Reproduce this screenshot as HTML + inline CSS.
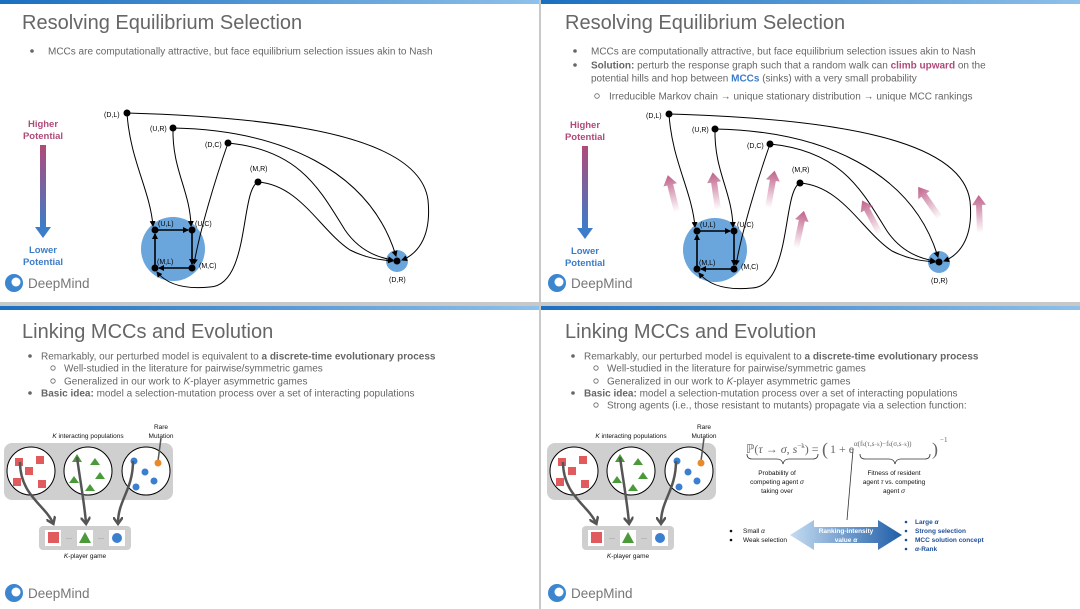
<!DOCTYPE html>
<html><head><meta charset="utf-8"><style>
html,body{margin:0;padding:0;background:#fff;}
svg{display:block;font-family:"Liberation Sans",sans-serif;}
</style></head><body>
<svg width="1080" height="609" viewBox="0 0 1080 609" xmlns="http://www.w3.org/2000/svg">
<defs>
<linearGradient id="bar" x1="0" x2="1"><stop offset="0" stop-color="#1a6fc0"/><stop offset="1" stop-color="#8ec0ea"/></linearGradient>
<linearGradient id="pot" x1="0" y1="0" x2="0" y2="1"><stop offset="0" stop-color="#b04a7a"/><stop offset="1" stop-color="#3d7cc8"/></linearGradient>
<linearGradient id="pk" x1="0" y1="1" x2="0" y2="0"><stop offset="0" stop-color="#b8507e" stop-opacity="0"/><stop offset="1" stop-color="#b8507e" stop-opacity="0.9"/></linearGradient>
<linearGradient id="big" x1="0" x2="1"><stop offset="0" stop-color="#c5dcf2"/><stop offset="1" stop-color="#1f5ea8"/></linearGradient>
<marker id="ah" markerWidth="6" markerHeight="6" refX="5" refY="3" orient="auto" markerUnits="userSpaceOnUse"><path d="M0,0 L6,3 L0,6 z" fill="#000"/></marker>
<marker id="gh" markerWidth="10" markerHeight="10" refX="6" refY="5" orient="auto" markerUnits="userSpaceOnUse"><path d="M0,0 L7,5 L0,10" fill="none" stroke="#555" stroke-width="2.5"/></marker>
</defs>

<rect x="0" y="302" width="1080" height="4" fill="#c8c8c8"/>
<rect x="539" y="0" width="2" height="609" fill="#c8c8c8"/>
<rect x="0" y="0" width="539" height="4" fill="url(#bar)"/>
<rect x="541" y="0" width="539" height="4" fill="url(#bar)"/>
<rect x="0" y="306" width="539" height="4" fill="url(#bar)"/>
<rect x="541" y="306" width="539" height="4" fill="url(#bar)"/>

<!-- ===== Slide 1 ===== -->
<text x="22" y="29" font-size="20" fill="#666">Resolving Equilibrium Selection</text>
<circle cx="32" cy="51" r="1.8" fill="#666"/>
<text x="48" y="54.5" font-size="10" fill="#666">MCCs are computationally attractive, but face equilibrium selection issues akin to Nash</text>
<g>
<text x="43" y="127" font-size="9.5" font-weight="bold" fill="#b04a7a" text-anchor="middle">Higher</text>
<text x="43" y="139" font-size="9.5" font-weight="bold" fill="#b04a7a" text-anchor="middle">Potential</text>
<rect x="40" y="145" width="6" height="82" fill="url(#pot)"/>
<path d="M35,227 L51,227 L43,238 z" fill="#3d7cc8"/>
<text x="43" y="253" font-size="9.5" font-weight="bold" fill="#3d7cc8" text-anchor="middle">Lower</text>
<text x="43" y="265" font-size="9.5" font-weight="bold" fill="#3d7cc8" text-anchor="middle">Potential</text>
<circle cx="173" cy="249" r="32" fill="#6aa5dc"/>
<circle cx="397" cy="261" r="11" fill="#6aa5dc"/>
<g fill="none" stroke="#000" stroke-width="1" marker-end="url(#ah)">
<path d="M127,113 C130,160 150,190 153,226"/>
<path d="M173,128 C172,170 190,190 191,226"/>
<path d="M228,143 C215,180 200,230 194,264"/>
<path d="M258,182 C240,190 250,285 210,287 C180,290 165,282 157,272"/>
<path d="M127,113 C300,118 420,140 428,200 C432,240 415,255 402,260"/>
<path d="M173,128 C280,130 370,170 396,256"/>
<path d="M228,143 C300,150 320,190 345,230 C360,252 380,258 393,260"/>
<path d="M258,182 C300,185 320,230 350,250 C370,260 385,260 393,261"/>
</g>
<g fill="none" stroke="#000" stroke-width="1.6" marker-end="url(#ah)">
<path d="M155,230 L188,230"/><path d="M192,230 L192,264"/><path d="M192,268 L159,268"/><path d="M155,268 L155,234"/>
</g>
<g fill="#000">
<circle cx="127" cy="113" r="3.5"/><circle cx="173" cy="128" r="3.5"/><circle cx="228" cy="143" r="3.5"/><circle cx="258" cy="182" r="3.5"/>
<circle cx="155" cy="230" r="3.5"/><circle cx="192" cy="230" r="3.5"/><circle cx="155" cy="268" r="3.5"/><circle cx="192" cy="268" r="3.5"/><circle cx="397" cy="261" r="3.5"/>
</g>
<g font-size="7" fill="#000">
<text x="104" y="117">(D,L)</text><text x="150" y="131">(U,R)</text><text x="205" y="147">(D,C)</text><text x="250" y="171">(M,R)</text>
<text x="158" y="226">(U,L)</text><text x="195" y="226">(U,C)</text><text x="157" y="264">(M,L)</text><text x="199" y="268">(M,C)</text><text x="389" y="282">(D,R)</text>
</g>
</g>
<circle cx="14" cy="283" r="9" fill="#3b86cf"/><circle cx="16" cy="282" r="4.5" fill="#fff"/>
<text x="28" y="288" font-size="13.5" fill="#777">DeepMind</text>

<!-- ===== Slide 2 ===== -->
<text x="565" y="29" font-size="20" fill="#666">Resolving Equilibrium Selection</text>
<g font-size="10" fill="#666">
<circle cx="575" cy="51" r="1.8" fill="#666"/>
<text x="591" y="54.5">MCCs are computationally attractive, but face equilibrium selection issues akin to Nash</text>
<circle cx="575" cy="65" r="1.8" fill="#666"/>
<text x="591" y="68.5"><tspan font-weight="bold">Solution:</tspan> perturb the response graph such that a random walk can <tspan font-weight="bold" fill="#b04a7a">climb upward</tspan> on the</text>
<text x="591" y="81.5">potential hills and hop between <tspan font-weight="bold" fill="#3d7cc8">MCCs</tspan> (sinks) with a very small probability</text>
<circle cx="597" cy="96" r="2.3" fill="none" stroke="#666" stroke-width="0.8"/>
<text x="609" y="99.5">Irreducible Markov chain → unique stationary distribution → unique MCC rankings</text>
</g>
<g transform="translate(542,1)">
<text x="43" y="127" font-size="9.5" font-weight="bold" fill="#b04a7a" text-anchor="middle">Higher</text>
<text x="43" y="139" font-size="9.5" font-weight="bold" fill="#b04a7a" text-anchor="middle">Potential</text>
<rect x="40" y="145" width="6" height="82" fill="url(#pot)"/>
<path d="M35,227 L51,227 L43,238 z" fill="#3d7cc8"/>
<text x="43" y="253" font-size="9.5" font-weight="bold" fill="#3d7cc8" text-anchor="middle">Lower</text>
<text x="43" y="265" font-size="9.5" font-weight="bold" fill="#3d7cc8" text-anchor="middle">Potential</text>
<circle cx="173" cy="249" r="32" fill="#6aa5dc"/>
<circle cx="397" cy="261" r="11" fill="#6aa5dc"/>
<g fill="none" stroke="#000" stroke-width="1" marker-end="url(#ah)">
<path d="M127,113 C130,160 150,190 153,226"/>
<path d="M173,128 C172,170 190,190 191,226"/>
<path d="M228,143 C215,180 200,230 194,264"/>
<path d="M258,182 C240,190 250,285 210,287 C180,290 165,282 157,272"/>
<path d="M127,113 C300,118 420,140 428,200 C432,240 415,255 402,260"/>
<path d="M173,128 C280,130 370,170 396,256"/>
<path d="M228,143 C300,150 320,190 345,230 C360,252 380,258 393,260"/>
<path d="M258,182 C300,185 320,230 350,250 C370,260 385,260 393,261"/>
</g>
<g fill="none" stroke="#000" stroke-width="1.6" marker-end="url(#ah)">
<path d="M155,230 L188,230"/><path d="M192,230 L192,264"/><path d="M192,268 L159,268"/><path d="M155,268 L155,234"/>
</g>
<g fill="#000">
<circle cx="127" cy="113" r="3.5"/><circle cx="173" cy="128" r="3.5"/><circle cx="228" cy="143" r="3.5"/><circle cx="258" cy="182" r="3.5"/>
<circle cx="155" cy="230" r="3.5"/><circle cx="192" cy="230" r="3.5"/><circle cx="155" cy="268" r="3.5"/><circle cx="192" cy="268" r="3.5"/><circle cx="397" cy="261" r="3.5"/>
</g>
<g font-size="7" fill="#000">
<text x="104" y="117">(D,L)</text><text x="150" y="131">(U,R)</text><text x="205" y="147">(D,C)</text><text x="250" y="171">(M,R)</text>
<text x="158" y="226">(U,L)</text><text x="195" y="226">(U,C)</text><text x="157" y="264">(M,L)</text><text x="199" y="268">(M,C)</text><text x="389" y="282">(D,R)</text>
</g>
</g>
<g fill="url(#pk)">
<g transform="translate(677,212) rotate(-14)"><path d="M-3,0 L-3,-28 L-7,-28 L0,-38 L7,-28 L3,-28 L3,0 z"/></g>
<g transform="translate(718,210) rotate(-8)"><path d="M-3,0 L-3,-28 L-7,-28 L0,-38 L7,-28 L3,-28 L3,0 z"/></g>
<g transform="translate(768,208) rotate(10)"><path d="M-3,0 L-3,-28 L-7,-28 L0,-38 L7,-28 L3,-28 L3,0 z"/></g>
<g transform="translate(796,248) rotate(12)"><path d="M-3,0 L-3,-28 L-7,-28 L0,-38 L7,-28 L3,-28 L3,0 z"/></g>
<g transform="translate(880,234) rotate(-28)"><path d="M-3,0 L-3,-28 L-7,-28 L0,-38 L7,-28 L3,-28 L3,0 z"/></g>
<g transform="translate(940,218) rotate(-35)"><path d="M-3,0 L-3,-28 L-7,-28 L0,-38 L7,-28 L3,-28 L3,0 z"/></g>
<g transform="translate(980,233) rotate(-2)"><path d="M-3,0 L-3,-28 L-7,-28 L0,-38 L7,-28 L3,-28 L3,0 z"/></g>
</g>
<circle cx="557" cy="283" r="9" fill="#3b86cf"/><circle cx="559" cy="282" r="4.5" fill="#fff"/>
<text x="571" y="288" font-size="13.5" fill="#777">DeepMind</text>

<!-- ===== Slide 3 ===== -->
<text x="22" y="338" font-size="20" fill="#666">Linking MCCs and Evolution</text>
<g font-size="10" fill="#666">
<circle cx="30" cy="356" r="1.8" fill="#666"/>
<text x="41" y="359.5">Remarkably, our perturbed model is equivalent to <tspan font-weight="bold">a discrete-time evolutionary process</tspan></text>
<circle cx="53" cy="368" r="2.2" fill="none" stroke="#666" stroke-width="0.8"/>
<text x="64" y="371.5">Well-studied in the literature for pairwise/symmetric games</text>
<circle cx="53" cy="381" r="2.2" fill="none" stroke="#666" stroke-width="0.8"/>
<text x="64" y="384.5">Generalized in our work to <tspan font-style="italic">K</tspan>-player asymmetric games</text>
<circle cx="30" cy="393" r="1.8" fill="#666"/>
<text x="41" y="396.5"><tspan font-weight="bold">Basic idea:</tspan> model a selection-mutation process over a set of interacting populations</text>
</g>
<g>
<text x="88" y="438" font-size="6.5" text-anchor="middle" fill="#111"><tspan font-style="italic">K</tspan> interacting populations</text>
<text x="161" y="429" font-size="6.5" text-anchor="middle" fill="#111">Rare</text>
<text x="161" y="438" font-size="6.5" text-anchor="middle" fill="#111">Mutation</text>
<rect x="4" y="443" width="169" height="57" rx="8" fill="#cfcfcf"/>
<circle cx="31" cy="471" r="24" fill="#fff" stroke="#000" stroke-width="1"/>
<circle cx="88" cy="471" r="24" fill="#fff" stroke="#000" stroke-width="1"/>
<circle cx="146" cy="471" r="24" fill="#fff" stroke="#000" stroke-width="1"/>
<g fill="#e05a5e"><rect x="15" y="458" width="8" height="8"/><rect x="36" y="456" width="8" height="8"/><rect x="25" y="467" width="8" height="8"/><rect x="13" y="478" width="8" height="8"/><rect x="38" y="480" width="8" height="8"/></g>
<g fill="#4a9a3a"><path d="M77,454 L82,462 L72,462z"/><path d="M95,458 L100,465 L90,465z"/><path d="M74,476 L79,483 L69,483z"/><path d="M100,472 L105,479 L95,479z"/><path d="M90,484 L95,491 L85,491z"/></g>
<g fill="#3b7fcf"><circle cx="134" cy="461" r="3.5"/><circle cx="145" cy="472" r="3.5"/><circle cx="154" cy="481" r="3.5"/><circle cx="136" cy="487" r="3.5"/></g>
<path d="M161,438 L158,461" stroke="#555" stroke-width="1.5"/>
<circle cx="158" cy="463" r="3.5" fill="#e8892a"/>
<rect x="39" y="526" width="92" height="24" rx="4" fill="#cfcfcf"/>
<rect x="45" y="530" width="16" height="16" fill="#fff"/><rect x="48" y="532" width="11" height="11" fill="#e05a5e"/>
<rect x="77" y="530" width="16" height="16" fill="#fff"/><path d="M85,532 L91,543 L79,543z" fill="#4a9a3a"/>
<rect x="109" y="530" width="16" height="16" fill="#fff"/><circle cx="117" cy="538" r="5" fill="#3b7fcf"/>
<text x="69" y="540" font-size="6" fill="#555" text-anchor="middle">···</text>
<text x="101" y="540" font-size="6" fill="#555" text-anchor="middle">···</text>
<g fill="none" stroke="#555" stroke-width="2.5" marker-end="url(#gh)">
<path d="M20,462 C20,495 45,505 53,523"/>
<path d="M77,457 C80,480 84,500 86,523"/>
<path d="M133,461 C133,490 118,500 118,523"/>
</g>
<text x="85" y="558" font-size="6.5" text-anchor="middle" fill="#111"><tspan font-style="italic">K</tspan>-player game</text>
</g>
<circle cx="14" cy="593" r="9" fill="#3b86cf"/><circle cx="16" cy="592" r="4.5" fill="#fff"/>
<text x="28" y="598" font-size="13.5" fill="#777">DeepMind</text>

<!-- ===== Slide 4 ===== -->
<text x="565" y="338" font-size="20" fill="#666">Linking MCCs and Evolution</text>
<g font-size="10" fill="#666">
<circle cx="573" cy="356" r="1.8" fill="#666"/>
<text x="584" y="359.5">Remarkably, our perturbed model is equivalent to <tspan font-weight="bold">a discrete-time evolutionary process</tspan></text>
<circle cx="596" cy="368" r="2.2" fill="none" stroke="#666" stroke-width="0.8"/>
<text x="607" y="371.5">Well-studied in the literature for pairwise/symmetric games</text>
<circle cx="596" cy="381" r="2.2" fill="none" stroke="#666" stroke-width="0.8"/>
<text x="607" y="384.5">Generalized in our work to <tspan font-style="italic">K</tspan>-player asymmetric games</text>
<circle cx="573" cy="393" r="1.8" fill="#666"/>
<text x="584" y="396.5"><tspan font-weight="bold">Basic idea:</tspan> model a selection-mutation process over a set of interacting populations</text>
<circle cx="596" cy="405" r="2.2" fill="none" stroke="#666" stroke-width="0.8"/>
<text x="607" y="408.5">Strong agents (i.e., those resistant to mutants) propagate via a selection function:</text>
</g>
<g transform="translate(543,0)">
<text x="88" y="438" font-size="6.5" text-anchor="middle" fill="#111"><tspan font-style="italic">K</tspan> interacting populations</text>
<text x="161" y="429" font-size="6.5" text-anchor="middle" fill="#111">Rare</text>
<text x="161" y="438" font-size="6.5" text-anchor="middle" fill="#111">Mutation</text>
<rect x="4" y="443" width="169" height="57" rx="8" fill="#cfcfcf"/>
<circle cx="31" cy="471" r="24" fill="#fff" stroke="#000" stroke-width="1"/>
<circle cx="88" cy="471" r="24" fill="#fff" stroke="#000" stroke-width="1"/>
<circle cx="146" cy="471" r="24" fill="#fff" stroke="#000" stroke-width="1"/>
<g fill="#e05a5e"><rect x="15" y="458" width="8" height="8"/><rect x="36" y="456" width="8" height="8"/><rect x="25" y="467" width="8" height="8"/><rect x="13" y="478" width="8" height="8"/><rect x="38" y="480" width="8" height="8"/></g>
<g fill="#4a9a3a"><path d="M77,454 L82,462 L72,462z"/><path d="M95,458 L100,465 L90,465z"/><path d="M74,476 L79,483 L69,483z"/><path d="M100,472 L105,479 L95,479z"/><path d="M90,484 L95,491 L85,491z"/></g>
<g fill="#3b7fcf"><circle cx="134" cy="461" r="3.5"/><circle cx="145" cy="472" r="3.5"/><circle cx="154" cy="481" r="3.5"/><circle cx="136" cy="487" r="3.5"/></g>
<path d="M161,438 L158,461" stroke="#555" stroke-width="1.5"/>
<circle cx="158" cy="463" r="3.5" fill="#e8892a"/>
<rect x="39" y="526" width="92" height="24" rx="4" fill="#cfcfcf"/>
<rect x="45" y="530" width="16" height="16" fill="#fff"/><rect x="48" y="532" width="11" height="11" fill="#e05a5e"/>
<rect x="77" y="530" width="16" height="16" fill="#fff"/><path d="M85,532 L91,543 L79,543z" fill="#4a9a3a"/>
<rect x="109" y="530" width="16" height="16" fill="#fff"/><circle cx="117" cy="538" r="5" fill="#3b7fcf"/>
<text x="69" y="540" font-size="6" fill="#555" text-anchor="middle">···</text>
<text x="101" y="540" font-size="6" fill="#555" text-anchor="middle">···</text>
<g fill="none" stroke="#555" stroke-width="2.5" marker-end="url(#gh)">
<path d="M20,462 C20,495 45,505 53,523"/>
<path d="M77,457 C80,480 84,500 86,523"/>
<path d="M133,461 C133,490 118,500 118,523"/>
</g>
<text x="85" y="558" font-size="6.5" text-anchor="middle" fill="#111"><tspan font-style="italic">K</tspan>-player game</text>
</g>
<g font-family="Liberation Serif,serif" fill="#666">
<text x="746" y="453" font-size="12">ℙ(<tspan font-style="italic">τ</tspan> → <tspan font-style="italic">σ</tspan>, <tspan font-style="italic">s</tspan><tspan font-size="7" dy="-5">−k</tspan><tspan dy="5">) = </tspan></text>
<text x="822" y="455" font-size="18">(</text>
<text x="830" y="453" font-size="12">1 + e</text>
<text x="854" y="446" font-size="7">α(f<tspan font-size="5">k</tspan>(τ,s<tspan font-size="5">−k</tspan>)−f<tspan font-size="5">k</tspan>(σ,s<tspan font-size="5">−k</tspan>))</text>
<text x="932" y="455" font-size="18">)</text>
<text x="940" y="442" font-size="7">−1</text>
</g>
<g fill="none" stroke="#333" stroke-width="0.8">
<path d="M747,454 q0,5 5,5 h25 q5,0 6,5 q1,-5 6,-5 h24 q5,0 5,-5"/>
<path d="M860,454 q0,5 5,5 h24 q5,0 6,5 q1,-5 6,-5 h24 q5,0 5,-5"/>
<path d="M853,450 L847,520"/>
</g>
<g font-size="6.5" fill="#111" text-anchor="middle">
<text x="777" y="475">Probability of</text><text x="777" y="484">competing agent <tspan font-style="italic">σ</tspan></text><text x="777" y="493">taking over</text>
<text x="894" y="475">Fitness of resident</text><text x="894" y="484">agent <tspan font-style="italic">τ</tspan>  vs. competing</text><text x="894" y="493">agent <tspan font-style="italic">σ</tspan></text>
</g>
<path d="M790,535 L814,520 L814,527 L878,527 L878,520 L902,535 L878,550 L878,543 L814,543 L814,550 z" fill="url(#big)"/>
<text x="846" y="533" font-size="6.5" fill="#fff" text-anchor="middle" font-weight="bold">Ranking-intensity</text>
<text x="846" y="542" font-size="6.5" fill="#fff" text-anchor="middle" font-weight="bold">value <tspan font-style="italic">α</tspan></text>
<g font-size="6.5" fill="#111">
<circle cx="731" cy="531" r="1.3"/><text x="743" y="533">Small <tspan font-style="italic">α</tspan></text>
<circle cx="731" cy="540" r="1.3"/><text x="743" y="542">Weak selection</text>
</g>
<g font-size="6.5" fill="#1f4f9a" font-weight="bold">
<circle cx="906" cy="522" r="1.3"/><text x="915" y="524">Large <tspan font-style="italic">α</tspan></text>
<circle cx="906" cy="531" r="1.3"/><text x="915" y="533">Strong selection</text>
<circle cx="906" cy="540" r="1.3"/><text x="915" y="542">MCC solution concept</text>
<circle cx="906" cy="549" r="1.3"/><text x="915" y="551"><tspan font-style="italic">α</tspan>-Rank</text>
</g>
<circle cx="557" cy="593" r="9" fill="#3b86cf"/><circle cx="559" cy="592" r="4.5" fill="#fff"/>
<text x="571" y="598" font-size="13.5" fill="#777">DeepMind</text>
</svg>
</body></html>
